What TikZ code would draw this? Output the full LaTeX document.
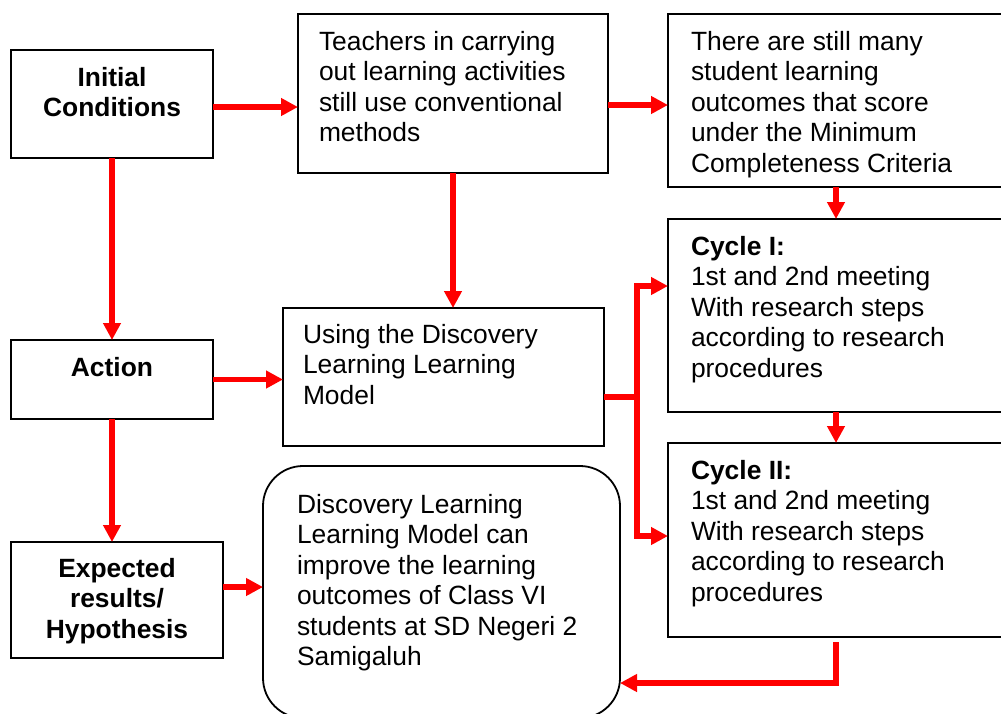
\documentclass[tikz,border=0pt]{standalone}
\usepackage{fontspec}
\setmainfont{Liberation Sans}
\usetikzlibrary{arrows.meta,calc}
\newcommand{\fsz}{\fontsize{26.4}{30.5}\selectfont}
\begin{document}
\begin{tikzpicture}[x=1pt,y=-1pt,
  box/.style={draw=black, line width=1.8pt, inner sep=0pt, outer sep=0pt, anchor=north west},
  txt/.style={anchor=north west, inner sep=0pt, outer sep=0pt, align=left, font=\fsz},
  ctxt/.style={anchor=north, inner sep=0pt, outer sep=0pt, align=center, font=\fsz\bfseries},
  redline/.style={draw=red, line width=5.5pt},
  arr/.style={redline, -{Triangle[length=17pt,width=17pt]}}]
\useasboundingbox (0,0) rectangle (1001,713);
\clip (0,0) rectangle (1001,713);
% boxes
\node[box, minimum width=202pt, minimum height=108pt] (init) at (11,50) {};
\node[box, minimum width=310pt, minimum height=159pt] (teach) at (298,14) {};
\node[box, minimum width=336pt, minimum height=173pt] (there) at (668,14) {};
\node[box, minimum width=336pt, minimum height=193pt] (cyc1) at (668,219) {};
\node[box, minimum width=336pt, minimum height=194pt] (cyc2) at (668,443) {};
\node[box, minimum width=202pt, minimum height=79pt] (action) at (11,340) {};
\node[box, minimum width=321pt, minimum height=138pt] (using) at (283,308) {};
\node[box, minimum width=212pt, minimum height=116pt] (expect) at (11,542) {};
\node[box, rounded corners=40pt, minimum width=357pt, minimum height=252pt] (round) at (263,466) {};
% texts
\node[ctxt] (initT) at ($(init.north)+(0,14.65)$) {\strut Initial\\Conditions};
\node[ctxt] (actionT) at ($(action.north)+(0,14.65)$) {\strut Action};
\node[ctxt] (expectT) at ($(expect.north)+(0,14)$) {\strut Expected\\results/\\Hypothesis};
\node[txt] (teachT) at ($(teach.north west)+(21,15)$) {\strut Teachers in carrying\\out learning activities\\still use conventional\\methods};
\node[txt] (thereT) at ($(there.north west)+(23,14.65)$) {\strut There are still many\\student learning\\outcomes that score\\under the Minimum\\Completeness Criteria};
\node[txt] (cyc1T) at ($(cyc1.north west)+(23,14.65)$) {\strut\textbf{Cycle I:}\\1st and 2nd meeting\\With research steps\\according to research\\procedures};
\node[txt] (cyc2T) at ($(cyc2.north west)+(23,14.65)$) {\strut\textbf{Cycle II:}\\1st and 2nd meeting\\With research steps\\according to research\\procedures};
\node[txt] (usingT) at ($(using.north west)+(20,13.65)$) {\strut Using the Discovery\\Learning Learning\\Model};
\node[txt] (roundT) at ($(round.north west)+(34,25.65)$) {\strut Discovery Learning\\Learning Model can\\improve the learning\\outcomes of Class VI\\students at SD Negeri 2\\Samigaluh};
% connectors
\coordinate (a1) at ($(init.east)+(0,3)$);
\draw[arr] (a1) -- (a1 -| teach.west);
\coordinate (a2) at ($(teach.east)+(0,11.5)$);
\draw[arr] (a2) -- (a2 -| there.west);
\draw[arr] (init.south) -- (action.north);
\draw[arr] (teach.south) -- (teach.south |- using.north);
\draw[arr] (action.east) -- (action.east -| using.west);
\draw[arr] (there.south) -- (cyc1.north);
\draw[arr] (cyc1.south) -- (cyc2.north);
\draw[arr] (action.south) -- (action.south |- expect.north);
\coordinate (a9) at ($(expect.east)+(0,-13)$);
\draw[arr] (a9) -- (a9 -| round.west);
\coordinate (us) at ($(using.east)+(0,20)$);
\coordinate (jm) at ($(using.east)+(33,20)$);
\draw[redline] (us) -- (jm);
\coordinate (t1) at ($(cyc1.west)+(0,-29.5)$);
\coordinate (t2) at ($(cyc2.west)+(0,-4)$);
\draw[arr] (jm) |- (t1);
\draw[arr] (jm) |- (t2);
\coordinate (s11) at ($(cyc2.south)+(0,5)$);
\coordinate (e11) at ($(round.east)+(0,91)$);
\draw[arr] (s11) |- (e11);
\end{tikzpicture}
\end{document}
